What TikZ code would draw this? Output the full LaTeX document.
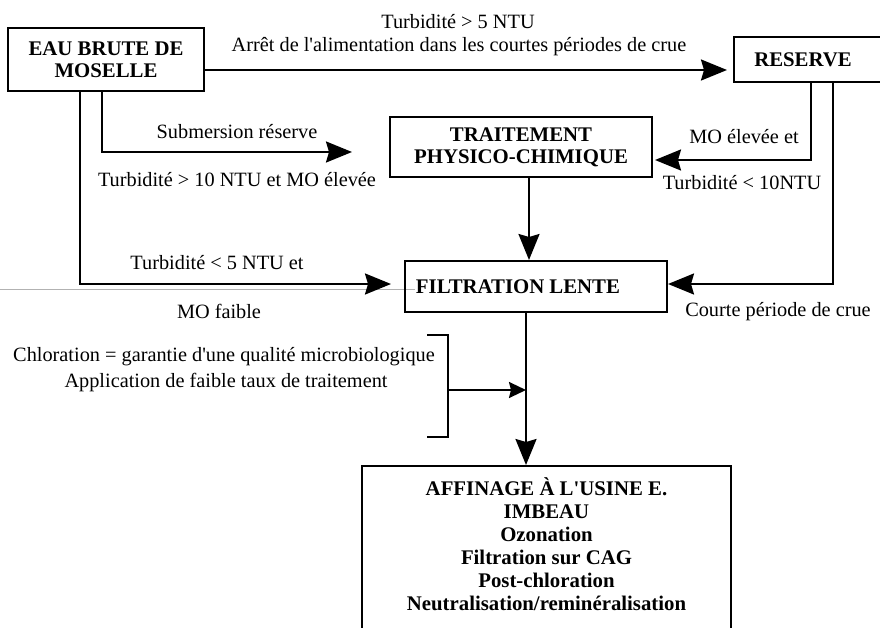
\documentclass[tikz,border=0pt]{standalone}
\usepackage{fontspec}
\setmainfont{Liberation Serif}[Ligatures=TeXOff]
\usetikzlibrary{arrows.meta}
\begin{document}
\begin{tikzpicture}[x=1pt,y=-1pt,
  box/.style={draw, line width=2pt, font=\fontsize{20.8}{22}\selectfont\bfseries, align=center, inner sep=0pt},
  lbl/.style={font=\fontsize{20.3}{22}\selectfont, inner sep=0pt},
  arr/.style={line width=2.2pt, -{Stealth[length=26pt,width=21pt,inset=3pt]}},
  smallarr/.style={line width=2pt, -{Stealth[length=17pt,width=16pt,inset=2pt]}},
  ln/.style={line width=2pt}]
\useasboundingbox (0,0) rectangle (880,628);
% faint scan line
\draw[gray!60, line width=0.6pt] (0,289) -- (415,289);
% boxes
\node[box, minimum width=196pt, minimum height=63pt] (eau) at (106,59.5) {EAU BRUTE DE\\MOSELLE};
\node[box, minimum width=160pt, minimum height=45pt, anchor=west] (reserve) at (733,59.5) {RESERVE\hspace*{22pt}};
\node[box, minimum width=262pt, minimum height=60pt] (trait) at (521,147) {TRAITEMENT\\PHYSICO-CHIMIQUE};
\node[box, minimum width=262pt, minimum height=51pt] (filt) at (536,286.5) {FILTRATION LENTE\hspace*{36pt}};
\node[box, minimum width=369pt, anchor=north, inner ysep=12pt, font=\fontsize{20.8}{23}\selectfont\bfseries] (aff) at (546.5,465)
  {AFFINAGE À L'USINE E.\\IMBEAU\\Ozonation\\Filtration sur CAG\\Post-chloration\\Neutralisation/reminéralisation\\\rule{0pt}{50pt}};
% connectors
\draw[arr, shorten >=6pt] ([yshift=-10.5pt]eau.east) -- ([yshift=-10.5pt]reserve.west);
\draw[arr, shorten >=37pt] ([xshift=-4pt]eau.south) |- ([yshift=-5pt]trait.west);
\draw[arr, shorten >=13pt] ([xshift=-26pt]eau.south) |- ([yshift=2.5pt]filt.west);
\draw[arr, shorten >=2pt] ([xshift=78pt]reserve.south west) |- ([yshift=-13pt]trait.east);
\draw[arr] ([xshift=100pt]reserve.south west) |- ([yshift=2.5pt]filt.east);
\draw[arr] ([xshift=8pt]trait.south) -- ([xshift=8pt]trait.south |- filt.north);
\draw[arr] ([xshift=-10pt]filt.south) coordinate (fs) -- (fs |- aff.north);
% bracket
\coordinate (brA) at (427,335);
\coordinate (brB) at (448,335);
\coordinate (brC) at (448,437);
\coordinate (brD) at (427,437);
\coordinate (brM) at (448,390);
\coordinate (joint) at (fs |- brM);
\draw[ln] (brA) -- (brB) -- (brC) -- (brD);
\draw[smallarr] (brM) -- (joint);
% labels
\node[lbl] (l1) at (458,22) {Turbidité > 5 NTU};
\node[lbl] (l2) at (459,47) {Arrêt de l'alimentation dans les courtes périodes de crue};
\node[lbl] (l3) at (237,132) {Submersion réserve};
\node[lbl] (l4) at (237,180) {Turbidité > 10 NTU et MO élevée};
\node[lbl] (l5) at (744,137) {MO élevée et};
\node[lbl] (l6) at (742,183) {Turbidité < 10NTU};
\node[lbl] (l7) at (217,263) {Turbidité < 5 NTU et};
\node[lbl] (l8) at (219,311) {MO faible};
\node[lbl] (l9) at (778,312) {Courte période de crue};
\node[lbl] (l10) at (224,357) {Chloration = garantie d'une qualité microbiologique};
\node[lbl] (l11) at (226,383) {Application de faible taux de traitement};
\end{tikzpicture}
\end{document}
